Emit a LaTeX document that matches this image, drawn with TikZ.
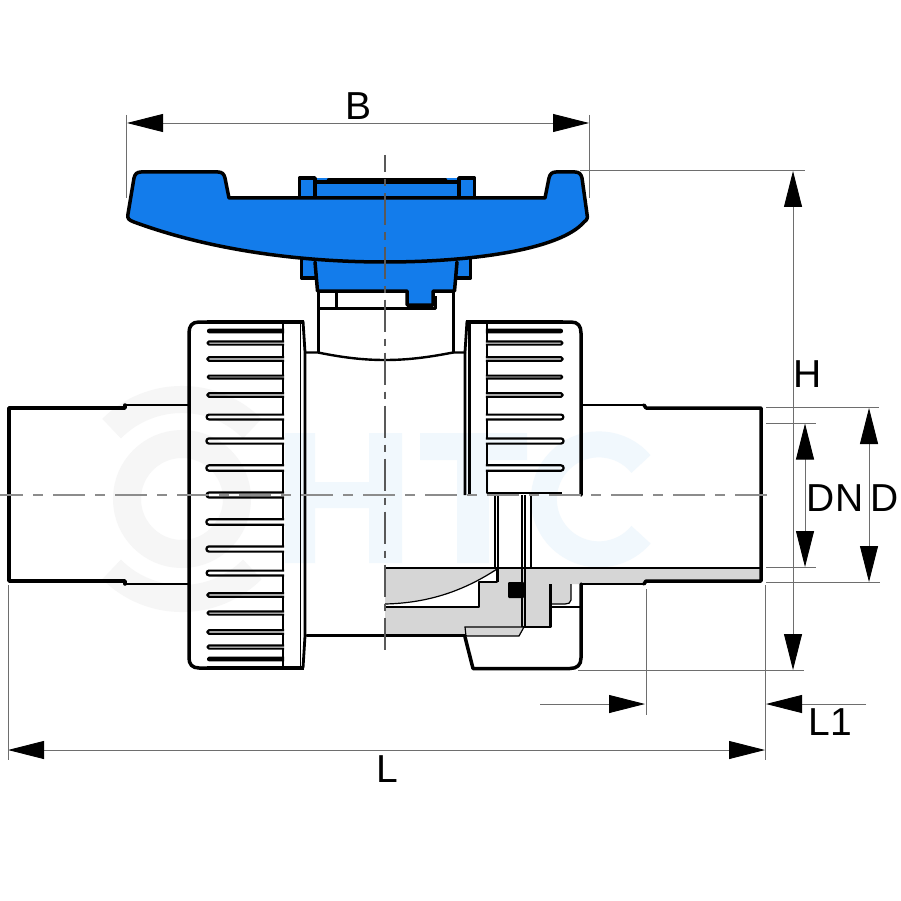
\documentclass[tikz,border=0pt]{standalone}
\usepackage{fontspec}
\setmainfont{Liberation Sans}
\usetikzlibrary{arrows.meta}
\definecolor{hblue}{HTML}{137CEB}
\definecolor{cutgrey}{HTML}{D6D6D6}
\definecolor{dimgrey}{HTML}{6E6E6E}
\definecolor{wmblue}{HTML}{F1F8FD}
\definecolor{wmgrey}{HTML}{F6F6F6}
\tikzset{
  x=1pt,y=-1pt,
  outline/.style={draw=black,line width=3.5pt,line join=round,line cap=round},
  collar/.style={draw=black,line width=2.7pt,line join=round,line cap=butt},
  midline/.style={draw=black,line width=2.4pt,line join=round,line cap=butt},
  ribline/.style={draw=black,line width=2.2pt,line join=round,line cap=butt},
  thinline/.style={draw=black,line width=1.2pt,line join=miter},
  dimline/.style={draw=dimgrey,line width=0.9pt},
  hcenter/.style={draw=black!45,line width=1.3pt,dash pattern=on 32pt off 10pt on 10pt off 10pt,dash phase=8.7pt},
  vcenter/.style={draw=black!65,line width=1.2pt,dash pattern=on 32pt off 7pt on 7pt off 7pt,dash phase=14.5pt},
  dimarrow/.style={draw=dimgrey,line width=0.9pt,{Triangle[length=36pt,width=18pt,black]}-{Triangle[length=36pt,width=18pt,black]}},
  onearrow/.style={draw=dimgrey,line width=0.9pt,-{Triangle[length=36pt,width=18pt,black]}},
  dimtext/.style={font=\fontsize{39}{39}\selectfont,inner sep=0pt,text=black}
}
\begin{document}
\begin{tikzpicture}
\useasboundingbox (0,0) rectangle (900,901);
\fill[white] (0,0) rectangle (900,901);
% watermark
\draw[wmgrey,line width=28pt] (182,499) circle[radius=55];
\draw[wmgrey,line width=27pt] (111.6,428.6) arc[start angle=225,end angle=315,radius=99.5];
\draw[wmgrey,line width=27pt] (111.6,569.4) arc[start angle=135,end angle=45,radius=99.5];
\fill[wmblue] (285,433) rectangle (315,563) (369,433) rectangle (402,563) (285,482) rectangle (402,508);
\fill[wmblue] (420,433) rectangle (527,460) (457,433) rectangle (489,563);
\draw[wmblue,line width=26pt] (641,464) arc[start angle=-40,end angle=-320,radius=55];
% grey cut section
\fill[cutgrey] (385,568) -- (761,568) -- (761,581) -- (645,581) -- (643,584) -- (571,584) -- (571,600)
  .. controls (571,603) and (568,604) .. (565,604) -- (551,604) -- (551,627) -- (523,627) -- (519,636) -- (385,636) -- (385,607)
  -- (479,607) -- (479,582) -- (497,582) -- (497,570)
  .. controls (465,590) and (430,603) .. (385,604) -- cycle;
% handle
\fill[hblue] (300,178) rectangle (474,198);
\fill[hblue] (301,250) rectangle (471,278);
\fill[hblue] (315,255) -- (457,255) -- (455,291) -- (433,291) -- (433,304) -- (407,304) -- (407,291) -- (317,291) -- cycle;
\draw[outline] (315,198) -- (315,178) -- (299.5,178) -- (299.5,198);
\draw[outline] (474.5,198) -- (474.5,178) -- (459,178) -- (459,198);
\draw[outline] (315,182) -- (459,182);
\draw[line width=4.5pt,line cap=round] (329,180) -- (445,180);
\draw[outline] (301.5,258) -- (301.5,278) -- (315.5,278);
\draw[outline] (470.5,258) -- (470.5,278) -- (456.5,278);
\draw[outline] (315,262) -- (317.5,291) -- (407,291) -- (407,305) -- (433,305) -- (433,291) -- (454.5,291) -- (457,262);
\draw[outline,fill=hblue] (134,178) .. controls (135,174) and (137,172) .. (141,172) -- (218,172)
  .. controls (222,172) and (224,174) .. (225,178)
  -- (229,198) -- (545,198) -- (549,178) .. controls (550,174) and (552,172) .. (556,172) -- (575,172)
  .. controls (579,172) and (581,174) .. (582,178)
  -- (587,214) .. controls (588,218) and (587,220) .. (584,222)
  .. controls (560,250) and (470,262) .. (385,262)
  .. controls (300,262) and (210,250) .. (134,222) .. controls (129,220) and (127,219) .. (128,214) -- cycle;
% stem
\draw[outline] (318.5,291) -- (318.5,352);
\draw[outline] (453.5,291) -- (453.5,352);
\draw[midline] (318,308.5) -- (435.5,308.5) -- (435.5,296);
\draw[outline] (336.5,293) -- (336.5,308);
% body
\draw[midline] (305,352.5) -- (318,352.5) .. controls (345,358) and (365,360) .. (385,360) .. controls (405,360) and (425,358) .. (453,352.5) -- (466,352.5);
% pipes
\draw[outline] (125,405) -- (125,408) -- (9,408) -- (9,581) -- (125,581) -- (125,584);
\draw[collar] (125,405) -- (189,405) (125,584) -- (189,584);
\draw[outline] (644,405) -- (646,408) -- (761,408) -- (761,581) -- (646,581) -- (644,584);
\draw[collar] (644,405) -- (582,405) (644,584) -- (581,584);
% left nut
\draw[outline] (207,322) -- (199,322) .. controls (192,322) and (189,326) .. (189,333) -- (189,658) .. controls (189,664) and (192,668) .. (199,668) -- (207,668);
\draw[line width=4.2pt] (207,322) -- (304,322);
\draw[line width=4.2pt] (207,668) -- (304,668);
\draw[line width=2.8pt] (303,321) -- (305,352) -- (305,636) -- (303,668);
\draw[thinline] (300.5,322) -- (300.5,668);
% right nut
\draw[line width=4.2pt] (466,322) -- (563,322);
\draw[outline] (563,322) -- (571,322) .. controls (578,322) and (581,326) .. (581,333) -- (581,495);
\draw[line width=2.8pt] (467,321) -- (465,352) -- (465,495);
\draw[midline] (469.5,322) -- (469.5,495);
% ribs
\foreach \ya/\ha/\yb/\hb in {331/1.2/343/1.6,343/1.6/359/1.8,359/1.8/377/1.4,377/1.4/395/1.8,395/1.8/417/2.4,417/2.4/441/2.6,441/2.6/468/2.7,468/2.7/495/2.5,495/2.5/522/2.7,522/2.7/549/2.6,549/2.6/573/2.4,573/2.4/595/1.8,595/1.8/613/1.6,613/1.6/632/1.8,632/1.8/647/1.6,647/1.6/659/1.2}{
  \draw[ribline] (283,\ya+\ha) -- (283,\yb-\hb);
}
\foreach \ya/\ha/\yb/\hb in {331/1.2/343/1.6,343/1.6/359/1.8,359/1.8/377/1.4,377/1.4/395/1.8,395/1.8/417/2.4,417/2.4/441/2.6,441/2.6/468/2.7,468/2.7/493/2}{
  \draw[ribline] (487,\ya+\ha) -- (487,\yb-\hb);
}
\draw[ribline] (283,322) -- (283,331);
\draw[ribline] (487,322) -- (487,331);
\draw[ribline] (283,659) -- (283,668);
\foreach \yy/\hh in {331/1.2,343/1.6,359/1.8,377/1.4,395/1.8,417/2.4,441/2.6,468/2.7,495/2.5,522/2.7,549/2.6,573/2.4,595/1.8,613/1.6,632/1.8,647/1.6,659/1.2}{
  \draw[ribline] (284.1,\yy-\hh) -- (209,\yy-\hh) arc[start angle=-90,delta angle=-180,radius=\hh] -- (284.1,\yy+\hh);
}
\foreach \yy/\hh in {331/1.2,343/1.6,359/1.8,377/1.4,395/1.8,417/2.4,441/2.6,468/2.7}{
  \draw[ribline] (485.9,\yy-\hh) -- (561,\yy-\hh) arc[start angle=-90,delta angle=180,radius=\hh] -- (485.9,\yy+\hh);
}
% section lines
\draw[midline] (487,491) -- (487,493) -- (562,493);
\draw[thinline] (385,568) -- (761,568);
\draw[thinline] (385,604) .. controls (430,603) and (465,590) .. (497,569);
\draw[midline] (497,569) -- (497,582) -- (479,582) -- (479,607) -- (385,607);
\draw[midline] (495,495) -- (495,568);
\draw[midline] (498,495) -- (498,582);
\draw[midline] (522,495) -- (522,627);
\draw[midline] (525,495) -- (525,627);
\draw[thinline] (531,495) -- (531,568);
\draw[midline] (550.5,584) -- (550.5,627) -- (523,627);
\draw[thinline] (465,627) -- (524,627) -- (519,636) -- (466,636) -- cycle;
\draw[thinline] (551,604) -- (565,604) .. controls (568,604) and (571,603) .. (571,600) -- (571,584);
\draw[thinline] (551,607) -- (581,607);
\fill[black,rounded corners=1pt] (508,582) rectangle (524,598);
\draw[outline] (581,584) -- (581,658) .. controls (581,665) and (577,668.5) .. (570,668.5) -- (473,668.5) -- (465,637);
\draw[outline] (307,635.5) -- (465,635.5);
% center lines
\draw[hcenter] (0,495) -- (768,495);
\draw[vcenter] (385,155) -- (385,652);
% dimensions
\coordinate (bl) at (127,123); \coordinate (br) at (589,123);
\coordinate (hl) at (793,171); \coordinate (hb) at (793,670);
\coordinate (dt) at (869,408); \coordinate (db) at (869,582);
\coordinate (nt) at (805,423.5); \coordinate (nb) at (805,567);
\coordinate (ll) at (8,750); \coordinate (lr) at (765,750);
\draw[dimarrow] (bl) -- (br);
\draw[dimarrow] (hl) -- (hb);
\draw[dimarrow] (dt) -- (db);
\draw[dimarrow] (nt) -- (nb);
\draw[dimarrow] (ll) -- (lr);
\coordinate (l1a) at (540,704); \coordinate (l1b) at (645,704);
\coordinate (l1c) at (866,704); \coordinate (l1d) at (766,704);
\draw[onearrow] (l1a) -- (l1b);
\draw[onearrow] (l1c) -- (l1d);
\draw[dimline] (126,115) -- (126,198);
\draw[dimline] (589,115) -- (589,198);
\draw[dimline] (580,170) -- (805,170);
\draw[dimline] (578,670) -- (804,670);
\draw[dimline] (766,407) -- (879,407);
\draw[dimline] (766,582.5) -- (880,582.5);
\draw[dimline] (766,423) -- (816,423);
\draw[dimline] (766,567) -- (816,567);
\draw[dimline] (8,585) -- (8,760);
\draw[dimline] (765,585) -- (765,760);
\draw[dimline] (646,589) -- (646,715);
% labels
\node[dimtext,anchor=base] (lblB) at (359,120) {B};
\node[dimtext,anchor=base] (lblH) at (808,387) {H};
\node[dimtext,anchor=base] (lblDN) at (835,511) {DN};
\node[dimtext,anchor=base] (lblD) at (885,511) {D};
\node[dimtext,anchor=base] (lblL) at (387,782) {L};
\node[dimtext,anchor=base] (lblLone) at (830,735) {L1};
\end{tikzpicture}
\end{document}
